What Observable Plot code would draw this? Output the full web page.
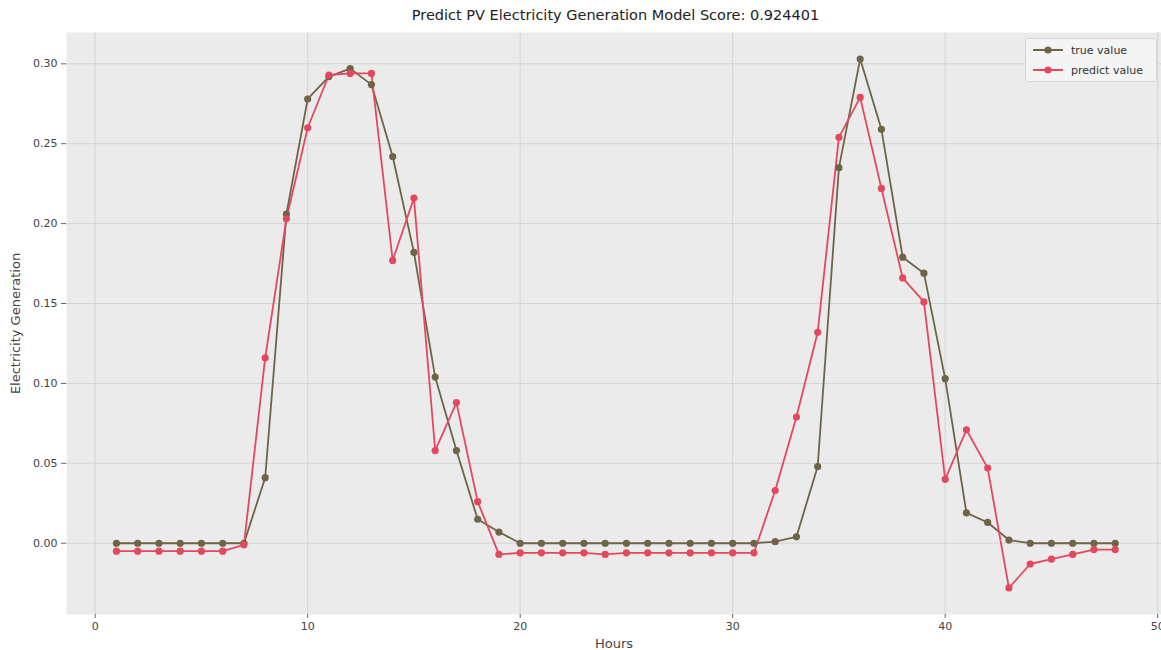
<!DOCTYPE html>
<html>
<head>
<meta charset="utf-8">
<script src="https://cdn.jsdelivr.net/npm/d3@7"></script>
<script src="https://cdn.jsdelivr.net/npm/@observablehq/plot@0.6"></script>
<style>
  html, body { margin: 0; padding: 0; background: #ffffff; }
  body { width: 1161px; height: 650px; overflow: hidden; font-family: "DejaVu Sans", sans-serif; }
  #wrap { position: relative; width: 1161px; height: 650px; }
  #title { height: 28px; line-height: 30px; font-size: 14.5px; color: #222; text-align: center; padding-left: 70px; }
  #legend { position: absolute; left: 1025px; top: 38px; width: 132px; height: 44px; background: #f4f4f4; border: 1px solid #d6d6d6; border-radius: 3px; box-sizing: border-box; font-size: 11px; color: #333; }
  .item { position: absolute; left: 6px; height: 16px; display: flex; align-items: center; }
  .item span { margin-left: 7px; }
</style>
</head>
<body>
<div id="wrap">
  <div id="title">Predict PV Electricity Generation Model Score: 0.924401</div>
  <div id="chart"></div>
  <div id="legend"></div>
</div>
<script>
const hours = [1,2,3,4,5,6,7,8,9,10,11,12,13,14,15,16,17,18,19,20,21,22,23,24,25,26,27,28,29,30,31,32,33,34,35,36,37,38,39,40,41,42,43,44,45,46,47,48];
const trueValue = [0,0,0,0,0,0,0,0.041,0.206,0.278,0.292,0.297,0.287,0.242,0.182,0.104,0.058,0.015,0.007,0,0,0,0,0,0,0,0,0,0,0,0,0.001,0.004,0.048,0.235,0.303,0.259,0.179,0.169,0.103,0.019,0.013,0.002,0,0,0,0,0];
const predictValue = [-0.005,-0.005,-0.005,-0.005,-0.005,-0.005,-0.001,0.116,0.203,0.260,0.293,0.294,0.294,0.177,0.216,0.058,0.088,0.026,-0.007,-0.006,-0.006,-0.006,-0.006,-0.007,-0.006,-0.006,-0.006,-0.006,-0.006,-0.006,-0.006,0.033,0.079,0.132,0.254,0.279,0.222,0.166,0.151,0.040,0.071,0.047,-0.028,-0.013,-0.010,-0.007,-0.004,-0.004];
const seriesNames = ["true value", "predict value"];
const seriesColors = ["#6e6446", "#e4485f"];
const xTicks = [0,10,20,30,40,50];
const yTicks = [0,0.05,0.10,0.15,0.20,0.25,0.30];

const rows = [];
hours.forEach((h, i) => {
  rows.push({hour: h, value: trueValue[i], series: seriesNames[0]});
});
hours.forEach((h, i) => {
  rows.push({hour: h, value: predictValue[i], series: seriesNames[1]});
});

const chart = Plot.plot({
  width: 1161,
  height: 622,
  marginLeft: 66,
  marginRight: 0,
  marginTop: 4,
  marginBottom: 36,
  style: { fontFamily: "DejaVu Sans, sans-serif", fontSize: "11px", color: "#444", background: "transparent" },
  x: { domain: [-1.35, 50.18] },
  y: { domain: [-0.0446, 0.3196] },
  color: { domain: seriesNames, range: seriesColors },
  marks: [
    Plot.frame({ fill: "#ebebeb", stroke: "none" }),
    Plot.gridX(xTicks, { stroke: "#d4d4d4", strokeOpacity: 1, strokeWidth: 1 }),
    Plot.gridY(yTicks, { stroke: "#d4d4d4", strokeOpacity: 1, strokeWidth: 1 }),
    Plot.axisX({ ticks: xTicks, tickSize: 4, tickPadding: 4, stroke: "#666", label: "Hours", labelAnchor: "center", labelArrow: "none", labelOffset: 33, fontSize: 11, tickFormat: d => String(d) }),
    Plot.axisY({ ticks: yTicks, tickSize: 5, tickPadding: 4, stroke: "#666", tickFormat: ".2f", label: "Electricity Generation", labelAnchor: "center", labelArrow: "none", labelOffset: 56, fontSize: 11 }),
    Plot.line(rows, { x: "hour", y: "value", z: "series", stroke: "series", strokeWidth: 1.8 }),
    Plot.dot(rows, { x: "hour", y: "value", fill: "series", r: 3.6 })
  ]
});
document.getElementById("chart").appendChild(chart);
// enlarge axis labels slightly
chart.querySelectorAll("g[aria-label='x-axis label'] text, g[aria-label='y-axis label'] text").forEach(t => t.setAttribute("font-size", "13"));

const legend = document.getElementById("legend");
seriesNames.forEach((name, i) => {
  const item = document.createElement("div");
  item.className = "item";
  item.style.top = (3 + i * 20) + "px";
  item.innerHTML = `<svg width="32" height="10"><line x1="1" y1="5" x2="31" y2="5" stroke="${seriesColors[i]}" stroke-width="2"/><circle cx="16" cy="5" r="3.6" fill="${seriesColors[i]}"/></svg><span>${name}</span>`;
  legend.appendChild(item);
});
</script>
</body>
</html>
